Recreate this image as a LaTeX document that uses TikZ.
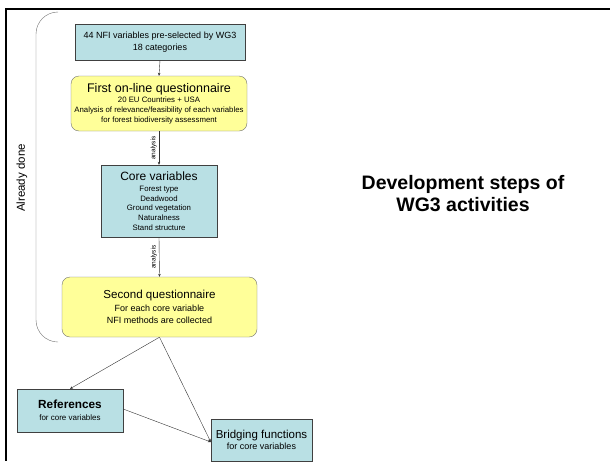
\documentclass[tikz,border=0pt]{standalone}
\usepackage{fontspec}
\setmainfont{Liberation Sans}
\usetikzlibrary{arrows.meta}

\definecolor{boxblue}{RGB}{185,224,228}
\definecolor{boxyellow}{RGB}{255,255,153}

\tikzset{
  bluebox/.style={draw=black!75, fill=boxblue, align=center, inner sep=1pt},
  yellowbox/.style={draw=black!55, fill=boxyellow, rounded corners=8pt, align=center, inner sep=1pt},
  link/.style={draw=black!80, -{Stealth[length=3pt,width=2.5pt]}},
  note/.style={font=\fontsize{6.5}{7}\selectfont, rotate=90, anchor=south, inner sep=2pt}
}

\begin{document}
\begin{tikzpicture}[x=1pt,y=-1pt]

   \useasboundingbox (0,0) rectangle (610,461);

   \draw [line width=2.4pt] (610,9) -- (6,9) -- (6,461);

   \node (pre) at (160,42) [bluebox, minimum width=170pt, minimum height=36pt,
     font=\fontsize{9}{12}\selectfont]
     {44 NFI variables pre-selected by WG3\\18 categories};
   \node (first) at (159,103.5) [yellowbox, minimum width=176pt, minimum height=55pt,
     font=\fontsize{7.8}{9.7}\selectfont]
     {{\fontsize{12.5}{13}\selectfont First on-line questionnaire}\\[1pt]
      20 EU Countries + USA\\
      Analysis of relevance/feasibility of each variables\\
      for forest biodiversity assessment};
   \node (core) at (159,201) [bluebox, minimum width=116pt, minimum height=72pt,
     font=\fontsize{7.8}{9.7}\selectfont]
     {{\fontsize{12}{13}\selectfont Core variables}\\[1.5pt]
      Forest type\\
      Deadwood\\
      Ground vegetation\\
      Naturalness\\
      Stand structure};
   \node (second) at (159.5,307) [yellowbox, minimum width=195pt, minimum height=60pt,
     font=\fontsize{9}{11.7}\selectfont]
     {{\fontsize{11.6}{13}\selectfont Second questionnaire}\\[1pt]
      For each core variable\\
      NFI methods are collected};
   \node (refs) at (70,410.5) [bluebox, minimum width=106pt, minimum height=43pt,
     font=\fontsize{8}{11.7}\selectfont]
     {{\fontsize{11.8}{12}\selectfont\bfseries References}\\
      for core variables};
   \node (bridge) at (261.5,440) [bluebox, minimum width=101pt, minimum height=42pt,
     font=\fontsize{9}{11.7}\selectfont]
     {{\fontsize{11.5}{12}\selectfont Bridging functions}\\
      for core variables};

   \node (title) at (463,194) [align=center, font=\fontsize{19.5}{22}\selectfont\bfseries]
     {Development steps of\\WG3 activities};

   \draw [draw=black!55, rounded corners=22pt] (58,12) -- (36,12) -- (36,342) -- (58,342);
   \node (done) at (22,178) [rotate=90, font=\fontsize{11.5}{13}\selectfont] {Already done};

   \draw [link] (pre.south) -- (first.north);
   \draw [link] (first.south) -- node [note] {analysis} (core.north);
   \draw [link] (core.south) -- node [note] {analysis} (second.north);

   \draw [link] (second.south) -- (refs.north);
   \draw [link] (second.south) -- ([yshift=-2pt]bridge.west);
   \draw [link] ([yshift=1.5pt]refs.east) -- ([yshift=-2pt]bridge.west);

\end{tikzpicture}
\end{document}
